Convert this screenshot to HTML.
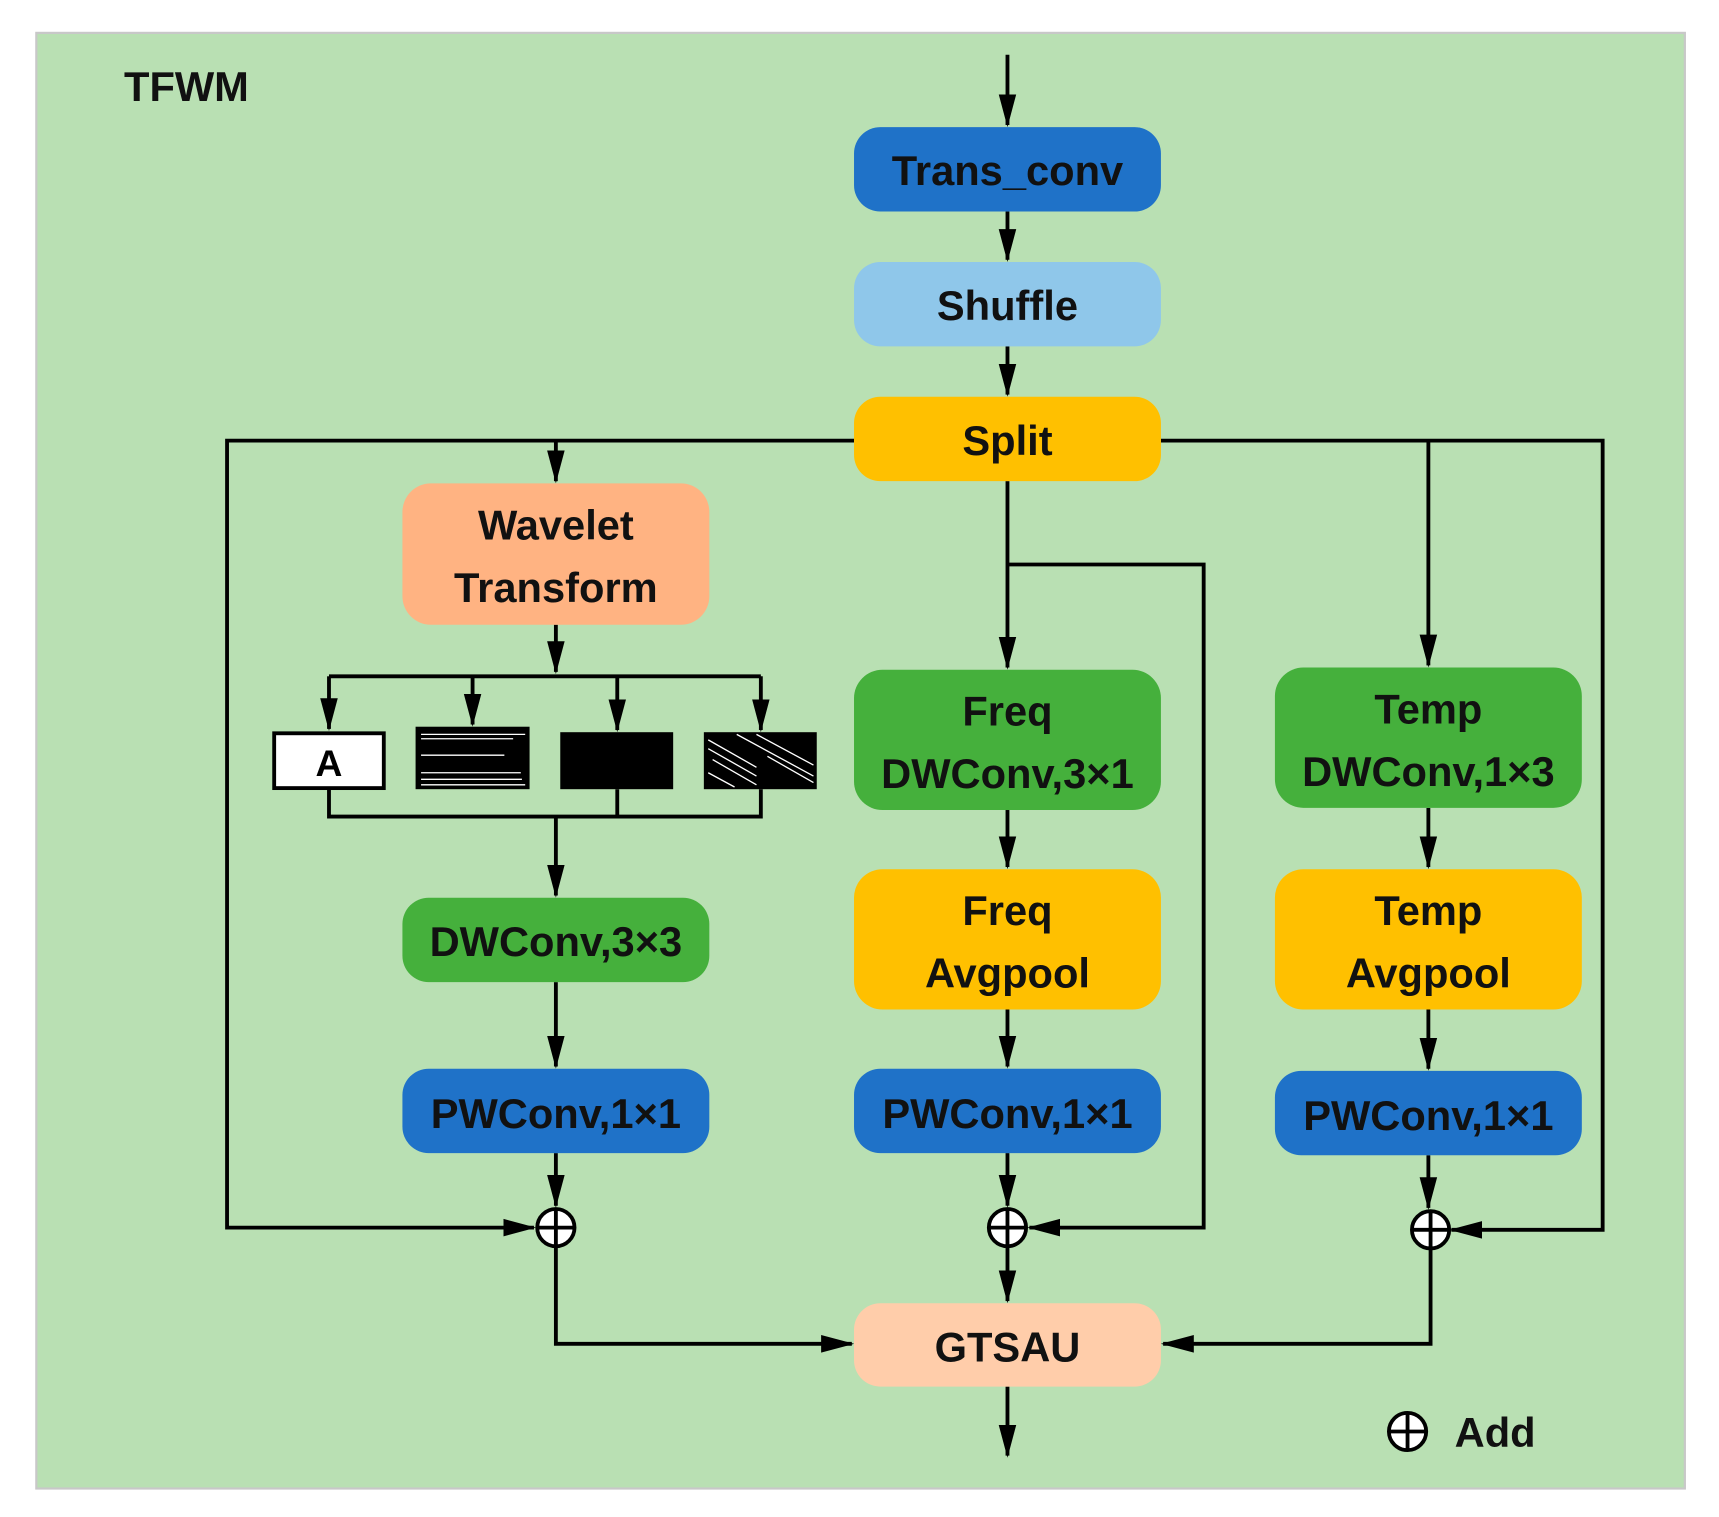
<!DOCTYPE html>
<html><head><meta charset="utf-8"><style>html,body{margin:0;padding:0;background:#fff}svg{display:block}</style></head>
<body>
<svg width="1719" height="1517" viewBox="0 0 1568 1384" xmlns="http://www.w3.org/2000/svg" font-family="Liberation Sans, sans-serif" font-weight="bold">
<defs>
<marker id="a" markerUnits="userSpaceOnUse" markerWidth="30" markerHeight="18" refX="28" refY="9" orient="auto" viewBox="0 0 30 18">
<path d="M0,1 L30,9 L0,17 Z" fill="#000"/>
</marker>
</defs>
<rect x="33" y="30" width="1504" height="1328" fill="#b9e0b3" stroke="#c8c8c8" stroke-width="2"/>
<text x="113" y="92" font-size="38" fill="#111">TFWM</text>

<g fill="none" stroke="#000" stroke-width="3.5">
<path d="M919,50 V114" marker-end="url(#a)"/>
<path d="M919,193 V237" marker-end="url(#a)"/>
<path d="M919,316 V360" marker-end="url(#a)"/>
<path d="M779,402 H207 V1120 H487" marker-end="url(#a)"/>
<path d="M507,402 V439" marker-end="url(#a)"/>
<path d="M1059,402 H1462 V1122 H1324" marker-end="url(#a)"/>
<path d="M1303,402 V607" marker-end="url(#a)"/>
<path d="M919,439 V609" marker-end="url(#a)"/>
<path d="M919,515 H1098 V1120 H939" marker-end="url(#a)"/>
<path d="M507,570 V613" marker-end="url(#a)"/>
<path d="M300,617 H694"/>
<path d="M300,617 V665" marker-end="url(#a)"/>
<path d="M431,617 V661" marker-end="url(#a)"/>
<path d="M563,617 V666" marker-end="url(#a)"/>
<path d="M694,617 V666" marker-end="url(#a)"/>
<path d="M300,719 V745 H694 V720 M563,720 V745"/>
<path d="M507,745 V817" marker-end="url(#a)"/>
<path d="M507,896 V973" marker-end="url(#a)"/>
<path d="M507,1052 V1100" marker-end="url(#a)"/>
<path d="M507,1138 V1226 H777" marker-end="url(#a)"/>
<path d="M919,739 V791" marker-end="url(#a)"/>
<path d="M919,921 V973" marker-end="url(#a)"/>
<path d="M919,1052 V1100" marker-end="url(#a)"/>
<path d="M919,1138 V1187" marker-end="url(#a)"/>
<path d="M919,1265 V1328" marker-end="url(#a)"/>
<path d="M1303,737 V791" marker-end="url(#a)"/>
<path d="M1303,921 V975" marker-end="url(#a)"/>
<path d="M1303,1054 V1102" marker-end="url(#a)"/>
<path d="M1305,1140 V1226 H1061" marker-end="url(#a)"/>
</g>

<g font-size="38" text-anchor="middle" fill="#111">
<rect x="779" y="116" width="280" height="77" rx="24" fill="#1f72c8"/><text x="919" y="169">Trans_conv</text>
<rect x="779" y="239" width="280" height="77" rx="24" fill="#8fc7ea"/><text x="919" y="292">Shuffle</text>
<rect x="779" y="362" width="280" height="77" rx="24" fill="#ffc000"/><text x="919" y="415">Split</text>
<rect x="367" y="441" width="280" height="129" rx="26" fill="#ffb382"/><text x="507" y="492">Wavelet</text><text x="507" y="549">Transform</text>
<rect x="779" y="611" width="280" height="128" rx="26" fill="#45b03c"/><text x="919" y="662">Freq</text><text x="919" y="719">DWConv,3×1</text>
<rect x="1163" y="609" width="280" height="128" rx="26" fill="#45b03c"/><text x="1303" y="660">Temp</text><text x="1303" y="717">DWConv,1×3</text>
<rect x="779" y="793" width="280" height="128" rx="26" fill="#ffc000"/><text x="919" y="844">Freq</text><text x="919" y="901">Avgpool</text>
<rect x="1163" y="793" width="280" height="128" rx="26" fill="#ffc000"/><text x="1303" y="844">Temp</text><text x="1303" y="901">Avgpool</text>
<rect x="367" y="819" width="280" height="77" rx="24" fill="#45b03c"/><text x="507" y="872">DWConv,3×3</text>
<rect x="367" y="975" width="280" height="77" rx="24" fill="#1f72c8"/><text x="507" y="1029">PWConv,1×1</text>
<rect x="779" y="975" width="280" height="77" rx="24" fill="#1f72c8"/><text x="919" y="1029">PWConv,1×1</text>
<rect x="1163" y="977" width="280" height="77" rx="24" fill="#1f72c8"/><text x="1303" y="1031">PWConv,1×1</text>
<rect x="779" y="1189" width="280" height="76" rx="24" fill="#ffcdaa"/><text x="919" y="1242">GTSAU</text>
</g>

<rect x="250" y="669" width="100" height="50" fill="#fff" stroke="#000" stroke-width="3.5"/>
<text x="300" y="708" font-size="34" text-anchor="middle">A</text>
<rect x="379" y="663" width="104" height="57" fill="#000"/>
<g stroke="#fff" stroke-width="1.2">
<path d="M384,670 H479 M384,674 H468 M384,689 H460 M384,705 H475 M384,711 H476 M384,716 H479"/>
</g>
<rect x="511" y="668" width="103" height="52" fill="#000"/>
<rect x="642" y="668" width="103" height="52" fill="#000"/>
<g stroke="#fff" stroke-width="1.2">
<path d="M646,675 L690,700 M646,683 L690,708 M650,693 L690,716 M672,670 L742,708 M690,670 L742,698 M700,690 L742,714 M646,705 L670,718"/>
</g>

<g fill="#fff" stroke="#000" stroke-width="3.5">
<circle cx="507" cy="1120" r="17"/><circle cx="919" cy="1120" r="17"/><circle cx="1305" cy="1122" r="17"/><circle cx="1284" cy="1306" r="17"/>
</g>
<g stroke="#000" stroke-width="3.5">
<path d="M490,1120 H524 M507,1103 V1137"/>
<path d="M902,1120 H936 M919,1103 V1137"/>
<path d="M1288,1122 H1322 M1305,1105 V1139"/>
<path d="M1267,1306 H1301 M1284,1289 V1323"/>
</g>
<text x="1327" y="1320" font-size="38" fill="#111">Add</text>
</svg>
</body></html>
